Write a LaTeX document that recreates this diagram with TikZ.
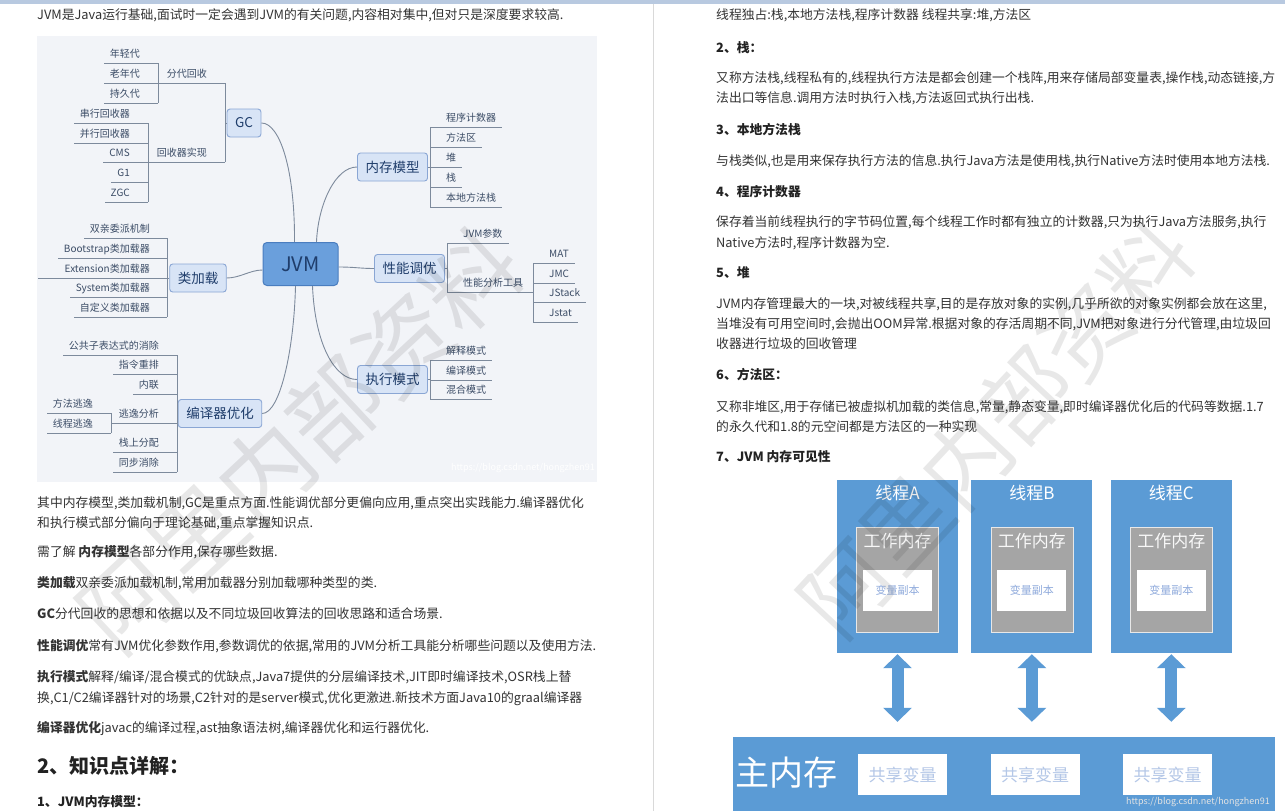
\documentclass[tikz,border=0pt]{standalone}
\usepackage{fontspec}
\setmainfont{Noto Sans CJK SC}
\usetikzlibrary{positioning, arrows.meta}

\definecolor{bodytext}{HTML}{333333}
\definecolor{headtext}{HTML}{222222}
\definecolor{topbar}{HTML}{B8C9E0}
\definecolor{sepline}{HTML}{D9D9D9}
\definecolor{mapbg}{HTML}{F2F4F8}
\definecolor{linecol}{HTML}{7D8A9C}
\definecolor{leaftext}{HTML}{3B4C66}
\definecolor{topicfill}{HTML}{D8E4F6}
\definecolor{topicdraw}{HTML}{8AA6D4}
\definecolor{topictext}{HTML}{1F3D6B}
\definecolor{rootfill}{HTML}{6A9FDC}
\definecolor{rootdraw}{HTML}{4A7DBF}
\definecolor{threadblue}{HTML}{5B9BD5}
\definecolor{workgrey}{HTML}{A5A5A5}
\definecolor{copytext}{HTML}{8FAADC}
\definecolor{sharedtext}{HTML}{B4C7E7}

\newcommand\bodyfont{\fontsize{12.8}{15}\selectfont}
\newcommand\leaffont{\fontsize{10}{12}\selectfont}
\newcommand\topicfont{\fontsize{13.5}{15}\selectfont}
\newcommand\rootfont{\fontsize{20}{22}\selectfont}

\tikzstyle{para} = [anchor=west, inner sep=0pt, text height=10.5pt, text depth=2pt, font=\bodyfont, text=bodytext]
\tikzstyle{head} = [para, font=\bodyfont\bfseries, text=headtext]
\tikzstyle{leaf} = [font=\leaffont, text=leaftext, inner xsep=0pt, inner ysep=2pt, text height=8pt, text depth=3pt]
\tikzstyle{leafL} = [leaf, anchor=south east]
\tikzstyle{leafR} = [leaf, anchor=south west]
\tikzstyle{mapline} = [draw=linecol, line width=0.9pt]
\tikzstyle{topic} = [rectangle, rounded corners=3pt, draw=topicdraw, fill=topicfill, text=topictext, font=\topicfont, line width=0.9pt, minimum height=28pt, inner xsep=8pt]
\tikzstyle{root} = [rectangle, rounded corners=4pt, draw=rootdraw, fill=rootfill, text=topictext, font=\rootfont, line width=1pt, minimum width=75pt, minimum height=43pt]
\tikzstyle{thread} = [rectangle, fill=threadblue, minimum width=121pt, minimum height=173pt, inner sep=0pt]
\tikzstyle{ttl} = [text=white, font=\fontsize{17}{20}\selectfont, inner sep=0pt]
\tikzstyle{workmem} = [rectangle, fill=workgrey, draw=white!75!workgrey, line width=0.8pt, minimum width=82pt, minimum height=105pt, inner sep=0pt]
\tikzstyle{worktext} = [text=white!92!workgrey, font=\fontsize{17}{20}\selectfont, inner sep=0pt]
\tikzstyle{copybox} = [rectangle, fill=white, minimum width=69pt, minimum height=41pt, inner sep=0pt, text=copytext, font=\fontsize{11}{13}\selectfont]
\tikzstyle{mainbox} = [rectangle, fill=threadblue, minimum width=542pt, minimum height=74pt, inner sep=0pt]
\tikzstyle{sharebox} = [rectangle, fill=white, minimum width=89pt, minimum height=41pt, inner sep=0pt, text=sharedtext, font=\fontsize{17}{20}\selectfont]
\tikzstyle{dblarrow} = [draw=threadblue, line width=12pt, <->, >={Triangle[width=28pt,length=14pt]}, shorten <=1pt, shorten >=15pt]
\tikzstyle{wmark} = [text=black, opacity=0.09, inner sep=0pt]

\begin{document}
\begin{tikzpicture}[x=1pt, y=-1pt]
\useasboundingbox (0,0) rectangle (1285,811);
\fill [white] (0,0) rectangle (1285,811);
\fill [topbar] (0,0) rectangle (1285,4);
\draw [sepline, line width=1pt] (653,4) -- (653,811);

% left column
\node (intro) [para] at (37,15) {JVM是Java运行基础,面试时一定会遇到JVM的有关问题,内容相对集中,但对只是深度要求较高.};
\fill [mapbg] (37,36) rectangle (597,482);

% mind map
\node (jvm) [root] at (300.5,264) {JVM};
\node (gc) [topic] at (244,123) {GC};
\node (mem) [topic] at (392.5,167) {内存模型};
\node (load) [topic] at (198,278) {类加载};
\node (tune) [topic] at (409.5,268.5) {性能调优};
\node (comp) [topic] at (220,413.5) {编译器优化};
\node (exec) [topic] at (392.5,379.5) {执行模式};

\draw [mapline] ([xshift=-6pt]jvm.north) .. controls (295,170) and (280,123) .. (gc.east);
\draw [mapline] ([xshift=16pt]jvm.north) .. controls (318,205) and (335,167) .. (mem.west);
\draw [mapline] ([yshift=-6pt]jvm.west) .. controls (250,270) and (240,278) .. (load.east);
\draw [mapline] ([yshift=-3pt]jvm.east) .. controls (355,267) and (360,268.5) .. (tune.west);
\draw [mapline] ([xshift=-5pt]jvm.south) .. controls (294,350) and (280,413.5) .. (comp.east);
\draw [mapline] ([xshift=12pt]jvm.south) .. controls (315,345) and (335,379.5) .. (exec.west);

% GC
\draw [mapline] (gc.west) -- (225,123);
\draw [mapline] (225,83) -- (225,162);
\node (gen) [leafL] at (207,83) {分代回收};
\draw [mapline] (225,83) -- (158,83);
\draw [mapline] (158,63) -- (158,103);
\node (young) [leafL] at (140,63) {年轻代};
\draw [mapline] (158,63) -- ([xshift=-6pt]young.south west);
\node (old) [leafL] at (140,83) {老年代};
\draw [mapline] (158,83) -- ([xshift=-6pt]old.south west);
\node (perm) [leafL] at (140,103) {持久代};
\draw [mapline] (158,103) -- ([xshift=-6pt]perm.south west);
\node (impl) [leafL] at (207,162) {回收器实现};
\draw [mapline] (225,162) -- (148,162);
\draw [mapline] (148,123) -- (148,202);
\node (serial) [leafL] at (130,123) {串行回收器};
\draw [mapline] (148,123) -- ([xshift=-6pt]serial.south west);
\node (parallel) [leafL] at (130,143) {并行回收器};
\draw [mapline] (148,143) -- ([xshift=-6pt]parallel.south west);
\node (cms) [leafL] at (130,162) {CMS};
\draw [mapline] (148,162) -- ([xshift=-6pt]cms.south west);
\node (gone) [leafL] at (130,182) {G1};
\draw [mapline] (148,182) -- ([xshift=-6pt]gone.south west);
\node (zgc) [leafL] at (130,202) {ZGC};
\draw [mapline] (148,202) -- ([xshift=-6pt]zgc.south west);

% class loading
\draw [mapline] (load.west) -- (167,278);
\draw [mapline] (167,238) -- (167,317);
\node (parent) [leafL] at (150,238) {双亲委派机制};
\draw [mapline] (167,238) -- ([xshift=-6pt]parent.south west);
\node (boot) [leafL] at (150,258) {Bootstrap类加载器};
\draw [mapline] (167,258) -- ([xshift=-6pt]boot.south west);
\node (ext) [leafL] at (150,278) {Extension类加载器};
\draw [mapline] (167,278) -- (38,278);
\node (sys) [leafL] at (150,297) {System类加载器};
\draw [mapline] (167,297) -- ([xshift=-6pt]sys.south west);
\node (custom) [leafL] at (150,317) {自定义类加载器};
\draw [mapline] (167,317) -- ([xshift=-6pt]custom.south west);

% compiler
\draw [mapline] (comp.west) -- (177,413.5);
\draw [mapline] (177,355) -- (177,472);
\node (cse) [leafL] at (159,355) {公共子表达式的消除};
\draw [mapline] (177,355) -- ([xshift=-6pt]cse.south west);
\node (reorder) [leafL] at (159,374) {指令重排};
\draw [mapline] (177,374) -- ([xshift=-6pt]reorder.south west);
\node (inline) [leafL] at (159,394) {内联};
\draw [mapline] (177,394) -- ([xshift=-6pt]inline.south west);
\node (escape) [leafL] at (159,423) {逃逸分析};
\draw [mapline] (177,423) -- (111,423);
\draw [mapline] (111,413) -- (111,433);
\node (mescape) [leafL] at (93,413) {方法逃逸};
\draw [mapline] (111,413) -- ([xshift=-6pt]mescape.south west);
\node (tescape) [leafL] at (93,433) {线程逃逸};
\draw [mapline] (111,433) -- ([xshift=-6pt]tescape.south west);
\node (stackalloc) [leafL] at (159,452) {栈上分配};
\draw [mapline] (177,452) -- ([xshift=-6pt]stackalloc.south west);
\node (syncelim) [leafL] at (159,472) {同步消除};
\draw [mapline] (177,472) -- ([xshift=-6pt]syncelim.south west);

% memory model
\draw [mapline] (mem.east) -- (430,167);
\draw [mapline] (430,127) -- (430,207);
\node (pc) [leafR] at (446,127) {程序计数器};
\draw [mapline] (430,127) -- ([xshift=6pt]pc.south east);
\node (method) [leafR] at (446,147) {方法区};
\draw [mapline] (430,147) -- ([xshift=6pt]method.south east);
\node (heap) [leafR] at (446,167) {堆};
\draw [mapline] (430,167) -- ([xshift=6pt]heap.south east);
\node (stack) [leafR] at (446,187) {栈};
\draw [mapline] (430,187) -- ([xshift=6pt]stack.south east);
\node (native) [leafR] at (446,207) {本地方法栈};
\draw [mapline] (430,207) -- ([xshift=6pt]native.south east);

% tuning
\draw [mapline] (tune.east) -- (447,268.5);
\draw [mapline] (447,243) -- (447,292);
\node (params) [leafR] at (463,243) {JVM参数};
\draw [mapline] (447,243) -- ([xshift=6pt]params.south east);
\node (tools) [leafR] at (463,292) {性能分析工具};
\draw [mapline] (447,292) -- (533,292);
\draw [mapline] (533,263) -- (533,322);
\node (mat) [leafR] at (549,263) {MAT};
\draw [mapline] (533,263) -- ([xshift=6pt]mat.south east);
\node (jmc) [leafR] at (549,283) {JMC};
\draw [mapline] (533,283) -- ([xshift=6pt]jmc.south east);
\node (jstack) [leafR] at (549,302) {JStack};
\draw [mapline] (533,302) -- ([xshift=6pt]jstack.south east);
\node (jstat) [leafR] at (549,322) {Jstat};
\draw [mapline] (533,322) -- ([xshift=6pt]jstat.south east);

% execution
\draw [mapline] (exec.east) -- (430,379.5);
\draw [mapline] (430,360) -- (430,399);
\node (interp) [leafR] at (446,360) {解释模式};
\draw [mapline] (430,360) -- ([xshift=6pt]interp.south east);
\node (compile) [leafR] at (446,380) {编译模式};
\draw [mapline] (430,380) -- ([xshift=6pt]compile.south east);
\node (mixed) [leafR] at (446,399) {混合模式};
\draw [mapline] (430,399) -- ([xshift=6pt]mixed.south east);

\node (mapurl) [anchor=east, text=white, font=\fontsize{9}{10}\selectfont, inner sep=0pt] at (595,468) {https://blog.csdn.net/hongzhen91};

% left text
\node (p1) [para] at (37,503) {其中内存模型,类加载机制,GC是重点方面.性能调优部分更偏向应用,重点突出实践能力.编译器优化};
\node (p2) [para] at (37,523) {和执行模式部分偏向于理论基础,重点掌握知识点.};
\node (p3) [para] at (37,552) {需了解 \textbf{内存模型}各部分作用,保存哪些数据.};
\node (p4) [para] at (37,583) {\textbf{类加载}双亲委派加载机制,常用加载器分别加载哪种类型的类.};
\node (p5) [para] at (37,614) {\textbf{GC}分代回收的思想和依据以及不同垃圾回收算法的回收思路和适合场景.};
\node (p6) [para] at (37,646) {\textbf{性能调优}常有JVM优化参数作用,参数调优的依据,常用的JVM分析工具能分析哪些问题以及使用方法.};
\node (p7) [para] at (37,677) {\textbf{执行模式}解释/编译/混合模式的优缺点,Java7提供的分层编译技术,JIT即时编译技术,OSR栈上替};
\node (p8) [para] at (37,698) {换,C1/C2编译器针对的场景,C2针对的是server模式,优化更激进.新技术方面Java10的graal编译器};
\node (p9) [para] at (37,728) {\textbf{编译器优化}javac的编译过程,ast抽象语法树,编译器优化和运行器优化.};
\node (h2) [head, font=\fontsize{20}{22}\selectfont\bfseries, text height=15pt, text depth=3pt] at (37,767) {2、知识点详解：};
\node (h21) [head] at (37,802) {1、JVM内存模型：};

% right text
\node (r1) [para] at (716,15) {线程独占:栈,本地方法栈,程序计数器 线程共享:堆,方法区};
\node (r2) [head] at (716,48) {2、栈：};
\node (r3) [para] at (716,78) {又称方法栈,线程私有的,线程执行方法是都会创建一个栈阵,用来存储局部变量表,操作栈,动态链接,方};
\node (r4) [para] at (716,98) {法出口等信息.调用方法时执行入栈,方法返回式执行出栈.};
\node (r5) [head] at (716,130) {3、本地方法栈};
\node (r6) [para] at (716,161) {与栈类似,也是用来保存执行方法的信息.执行Java方法是使用栈,执行Native方法时使用本地方法栈.};
\node (r7) [head] at (716,192) {4、程序计数器};
\node (r8) [para] at (716,222) {保存着当前线程执行的字节码位置,每个线程工作时都有独立的计数器,只为执行Java方法服务,执行};
\node (r9) [para] at (716,243) {Native方法时,程序计数器为空.};
\node (r10) [head] at (716,273) {5、堆};
\node (r11) [para] at (716,304) {JVM内存管理最大的一块,对被线程共享,目的是存放对象的实例,几乎所欲的对象实例都会放在这里,};
\node (r12) [para] at (716,324) {当堆没有可用空间时,会抛出OOM异常.根据对象的存活周期不同,JVM把对象进行分代管理,由垃圾回};
\node (r13) [para] at (716,344) {收器进行垃圾的回收管理};
\node (r14) [head] at (716,375) {6、方法区：};
\node (r15) [para] at (716,407) {又称非堆区,用于存储已被虚拟机加载的类信息,常量,静态变量,即时编译器优化后的代码等数据.1.7};
\node (r16) [para] at (716,427) {的永久代和1.8的元空间都是方法区的一种实现};
\node (r17) [head] at (716,457) {7、JVM 内存可见性};

% memory visibility
\node (thA) [thread] at (897.5,566.5) {};
\node (thB) [thread, right=13pt of thA] {};
\node (thC) [thread, right=18pt of thB] {};
\node (ttlA) [ttl] at (thA.center |- 0,493) {线程A};
\node (ttlB) [ttl] at (thB.center |- 0,493) {线程B};
\node (ttlC) [ttl] at (thC.center |- 0,493) {线程C};
\node (wA) [workmem, below=47pt of thA.north] {};
\node (wB) [workmem, below=47pt of thB.north] {};
\node (wC) [workmem, below=47pt of thC.north] {};
\node (wtA) [worktext] at (wA.center |- 0,541) {工作内存};
\node (wtB) [worktext] at (wB.center |- 0,541) {工作内存};
\node (wtC) [worktext] at (wC.center |- 0,541) {工作内存};
\node (cpA) [copybox, below=43pt of wA.north] {变量副本};
\node (cpB) [copybox, below=43pt of wB.north] {变量副本};
\node (cpC) [copybox, below=43pt of wC.north] {变量副本};

\node (mainmem) [mainbox] at (1004,774) {};
\node (mainlbl) [text=white, font=\fontsize{34}{36}\selectfont, inner sep=0pt] at (786.5,773) {主内存};
\node (shA) [sharebox] at (902.5,774.5) {共享变量};
\node (shB) [sharebox] at (1035,774.5) {共享变量};
\node (shC) [sharebox] at (1167.5,774.5) {共享变量};
\node (memurl) [anchor=east, text=white!78!gray, font=\fontsize{9}{10}\selectfont, inner sep=0pt] at (1270,802) {https://blog.csdn.net/hongzhen91};

\draw [dblarrow] (thA.south) -- (thA.south |- mainmem.north);
\draw [dblarrow] (thB.south) -- (thB.south |- mainmem.north);
\draw [dblarrow] (thC.south) -- (thC.south |- mainmem.north);

% watermarks
\node (wml) [wmark, rotate=43, font=\fontsize{94}{94}\selectfont] at (300,440) {阿里内部资料};
\node (wmr) [wmark, rotate=47, font=\fontsize{88}{88}\selectfont] at (996,428) {阿里内部资料};
\end{tikzpicture}
\end{document}
